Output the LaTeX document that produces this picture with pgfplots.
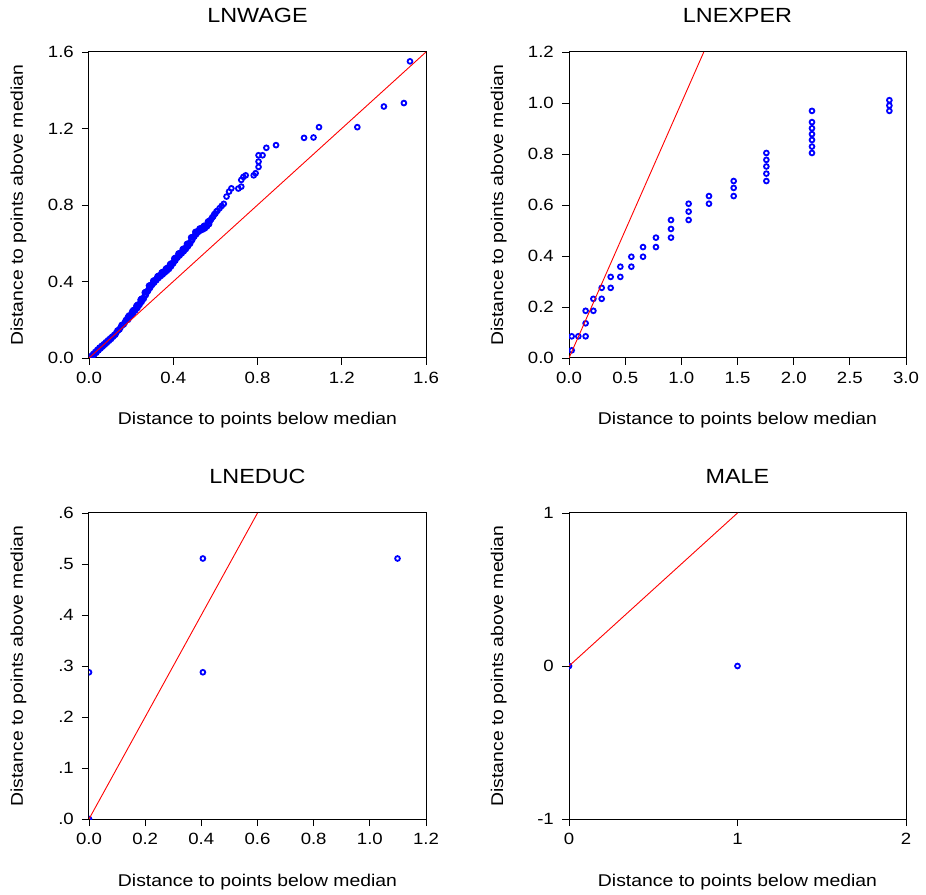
\documentclass[border=0pt]{standalone}
\usepackage{fontspec}
\setmainfont{Liberation Sans}[FakeStretch=1.14]
\usepackage{pgfplots}
\pgfplotsset{compat=1.18}

\definecolor{ptblue}{RGB}{0,0,255}
\definecolor{refred}{RGB}{255,0,0}

\pgfplotsset{
  symplot/.style={
    scale only axis, width=337pt, height=306pt,
    anchor=south west,
    clip marker paths=true,
    axis line style={line width=1pt},
    tick align=outside, tick pos=left,
    major tick length=7pt,
    every tick/.style={black, line width=0.8pt},
    tick label style={font=\fontsize{16.3}{18}\selectfont, inner sep=0pt},
    xticklabel style={anchor=north, yshift=-6.7pt},
    yticklabel style={anchor=east, xshift=-8pt},
    label style={font=\fontsize{17}{20}\selectfont},
    title style={font=\fontsize{20.5}{24}\selectfont,
      at={([yshift=23pt]axis description cs:0.5,1)}, anchor=base},
    xlabel style={at={([yshift=-67pt]axis description cs:0.5,0)}, anchor=base},
    ylabel style={at={([xshift=-66pt]axis description cs:0,0.5)}, anchor=base},
    xlabel={Distance to points below median},
    ylabel={Distance to points above median},
  },
  pts/.style={only marks, mark=o, mark size=2.4pt, color=ptblue,
    mark options={line width=1.8pt}},
  diag/.style={refred, line width=0.9pt},
}

\begin{document}
\begin{tikzpicture}
\useasboundingbox (0,0) rectangle (926pt,894pt);

% LNWAGE
\begin{axis}[symplot, at={(89pt,536pt)}, title={LNWAGE},
  xmin=0, xmax=1.6, ymin=0, ymax=1.6,
  xtick={0,0.4,0.8,1.2,1.6}, xticklabels={0.0,0.4,0.8,1.2,1.6},
  ytick={0,0.4,0.8,1.2,1.6}, yticklabels={0.0,0.4,0.8,1.2,1.6}]
\addplot[pts] coordinates {
(0.000,0.000) (0.010,0.010) (0.020,0.021) (0.030,0.032) (0.040,0.043)
(0.050,0.054) (0.060,0.063) (0.070,0.072) (0.080,0.082) (0.090,0.092)
(0.100,0.102) (0.110,0.111) (0.120,0.121) (0.130,0.133) (0.140,0.146)
(0.150,0.160) (0.160,0.173) (0.170,0.186) (0.180,0.199) (0.190,0.210)
(0.200,0.222) (0.210,0.236) (0.220,0.249) (0.230,0.262) (0.240,0.278)
(0.250,0.294) (0.260,0.310) (0.270,0.330) (0.280,0.350) (0.290,0.367)
(0.300,0.383) (0.310,0.395) (0.320,0.407) (0.330,0.418) (0.340,0.428)
(0.350,0.437) (0.360,0.447) (0.370,0.456) (0.380,0.466) (0.390,0.480)
(0.400,0.495) (0.410,0.510) (0.420,0.525) (0.430,0.536) (0.440,0.547)
(0.450,0.558) (0.460,0.570) (0.470,0.584) (0.480,0.598) (0.490,0.617)
(0.500,0.635) (0.510,0.648) (0.520,0.660) (0.530,0.667) (0.540,0.672)
(0.550,0.678) (0.560,0.688) (0.570,0.700) (0.580,0.725) (0.590,0.740)
(0.600,0.755) (0.610,0.770) (0.620,0.783) (0.630,0.795) (0.640,0.806)
(0.015,0.008) (0.035,0.028) (0.055,0.050) (0.075,0.070) (0.095,0.090)
(0.115,0.112) (0.135,0.143) (0.155,0.172) (0.175,0.198) (0.195,0.220)
(0.215,0.248) (0.235,0.276) (0.255,0.308) (0.275,0.345) (0.295,0.380)
(0.315,0.406) (0.335,0.428) (0.355,0.447) (0.375,0.466) (0.395,0.494)
(0.415,0.524) (0.435,0.547) (0.455,0.570) (0.475,0.598) (0.495,0.632)
(0.515,0.660) (0.535,0.676) (0.555,0.690) (0.575,0.718) (0.595,0.752)
(0.025,0.018) (0.045,0.040) (0.065,0.060) (0.085,0.080) (0.105,0.100)
(0.125,0.122) (0.145,0.150) (0.165,0.176) (0.185,0.200) (0.205,0.232)
(0.225,0.260) (0.245,0.292) (0.265,0.326) (0.285,0.364) (0.305,0.392)
(0.325,0.418) (0.345,0.437) (0.365,0.457) (0.385,0.478) (0.405,0.508)
(0.425,0.536) (0.445,0.558) (0.465,0.582) (0.485,0.612) (0.505,0.646)
(0.525,0.668) (0.545,0.682) (0.565,0.700) (0.585,0.735) (0.605,0.766)
(0.190,0.222) (0.210,0.250) (0.230,0.278) (0.250,0.310) (0.270,0.346)
(0.290,0.380) (0.310,0.406) (0.330,0.430) (0.350,0.450) (0.370,0.470)
(0.390,0.494) (0.410,0.524) (0.430,0.548) (0.450,0.572) (0.470,0.598)
(0.490,0.632) (0.510,0.660) (0.530,0.678) (0.550,0.692) (0.570,0.716)
(0.185,0.214) (0.205,0.242) (0.225,0.272) (0.245,0.304) (0.265,0.342)
(0.285,0.378) (0.305,0.403) (0.325,0.426) (0.345,0.446) (0.365,0.466)
(0.385,0.490) (0.405,0.520) (0.425,0.546) (0.445,0.569) (0.465,0.596)
(0.485,0.630) (0.505,0.659) (0.525,0.676) (0.545,0.690) (0.565,0.713)
(0.653,0.844) (0.665,0.870) (0.676,0.887) (0.709,0.886) (0.723,0.896)
(0.723,0.931) (0.733,0.947) (0.744,0.955) (0.782,0.955) (0.791,0.966)
(0.805,0.999) (0.805,1.027) (0.805,1.060) (0.824,1.060) (0.842,1.099)
(0.888,1.113) (1.021,1.151) (1.066,1.153) (1.092,1.207) (1.274,1.207)
(1.400,1.315) (1.495,1.333) (1.524,1.551)
};
\addplot[diag] coordinates {(0,0) (1.6,1.6)};
\end{axis}

% LNEXPER
\begin{axis}[symplot, at={(569pt,536pt)}, title={LNEXPER},
  xmin=0, xmax=3.0, ymin=0, ymax=1.2,
  xtick={0,0.5,1,1.5,2,2.5,3}, xticklabels={0.0,0.5,1.0,1.5,2.0,2.5,3.0},
  ytick={0,0.2,0.4,0.6,0.8,1.0,1.2}, yticklabels={0.0,0.2,0.4,0.6,0.8,1.0,1.2}]
\addplot[pts] coordinates {
(0.024,0.030) (0.024,0.085) (0.083,0.085)
(0.148,0.085) (0.148,0.136) (0.148,0.185)
(0.217,0.185) (0.217,0.232)
(0.291,0.232) (0.291,0.275)
(0.371,0.275) (0.371,0.318)
(0.457,0.318) (0.457,0.358)
(0.555,0.358) (0.555,0.397)
(0.659,0.397) (0.659,0.435)
(0.774,0.435) (0.774,0.472)
(0.908,0.472) (0.908,0.506) (0.908,0.541)
(1.065,0.541) (1.065,0.574) (1.065,0.605)
(1.246,0.605) (1.246,0.635)
(1.466,0.635) (1.466,0.667) (1.466,0.694)
(1.757,0.694) (1.757,0.723) (1.757,0.751) (1.757,0.777) (1.757,0.804)
(2.163,0.804) (2.163,0.829) (2.163,0.855) (2.163,0.878) (2.163,0.901)
(2.163,0.925) (2.163,0.969)
(2.852,0.969) (2.852,0.990) (2.852,1.011)
};
\addplot[diag] coordinates {(0,0) (1.2,1.2)};
\end{axis}

% LNEDUC
\begin{axis}[symplot, at={(89pt,75pt)}, title={LNEDUC},
  xmin=0, xmax=1.2, ymin=0, ymax=0.6,
  xtick={0,0.2,0.4,0.6,0.8,1.0,1.2}, xticklabels={0.0,0.2,0.4,0.6,0.8,1.0,1.2},
  ytick={0,0.1,0.2,0.3,0.4,0.5,0.6}, yticklabels={.0,.1,.2,.3,.4,.5,.6}]
\addplot[pts] coordinates {
(0,0) (0,0.2877) (0.4055,0.2877) (0.4055,0.5108) (1.0986,0.5108)
};
\addplot[diag] coordinates {(0,0) (0.6,0.6)};
\end{axis}

% MALE
\begin{axis}[symplot, at={(569pt,75pt)}, title={MALE},
  xmin=0, xmax=2, ymin=-1, ymax=1,
  xtick={0,1,2}, xticklabels={0,1,2},
  ytick={-1,0,1}, yticklabels={-1,0,1}]
\addplot[pts] coordinates {(0,0) (1,0)};
\addplot[diag] coordinates {(0,0) (1,1)};
\end{axis}
\end{tikzpicture}
\end{document}
